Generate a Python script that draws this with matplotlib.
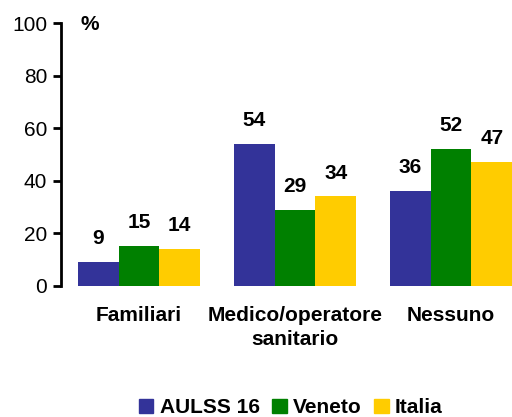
import numpy as np
import matplotlib.pyplot as plt
from matplotlib.patches import Patch

plt.rcParams['font.family'] = ['Liberation Sans', 'DejaVu Sans']

categories = ["Familiari", "Medico/operatore\nsanitario", "Nessuno"]
series_names = ["AULSS 16", "Veneto", "Italia"]
aulss = [9, 54, 36]
veneto = [15, 29, 52]
italia = [14, 34, 47]
colors = ["#333399", "#008000", "#FFCC00"]

fig = plt.figure(figsize=(5.12, 4.17), dpi=100)
ax = fig.add_axes([0.119, 0.315, 0.881, 0.629])

x = np.arange(len(categories))
w = 0.26
for i, (vals, c) in enumerate(zip([aulss, veneto, italia], colors)):
    pos = x + (i - 1) * w
    ax.bar(pos, vals, width=w, color=c, zorder=2)
    for p, v in zip(pos, vals):
        ax.annotate(str(v), (p, v), xytext=(0, 10), textcoords="offset points",
                    ha="center", va="bottom", fontsize=15, fontweight="bold")

ax.set_ylim(0, 100)
ax.set_xlim(-0.5, 2.39)
ax.set_yticks([0, 20, 40, 60, 80, 100])
ax.tick_params(axis="y", labelsize=15, length=6, width=2, direction="out", pad=4)
ax.tick_params(axis="x", length=0, pad=15, labelsize=15)
ax.set_xticks(x)
ax.set_xticklabels(categories, fontweight="bold", linespacing=1.3)
for s in ["top", "right", "bottom"]:
    ax.spines[s].set_visible(False)
ax.spines["left"].set_linewidth(2)

ax.text(0.064, 0.995, "%", transform=ax.transAxes, fontsize=15,
        fontweight="bold", ha="center", va="center")

handles = [Patch(color=c) for c in colors]
fig.legend(handles, series_names, loc="center", bbox_to_anchor=(0.568, 0.022),
           ncol=3, frameon=False, prop={"weight": "bold", "size": 15},
           handlelength=0.7, handleheight=0.7, handletextpad=0.3, columnspacing=0.6)

fig.savefig("out.png", dpi=100)
